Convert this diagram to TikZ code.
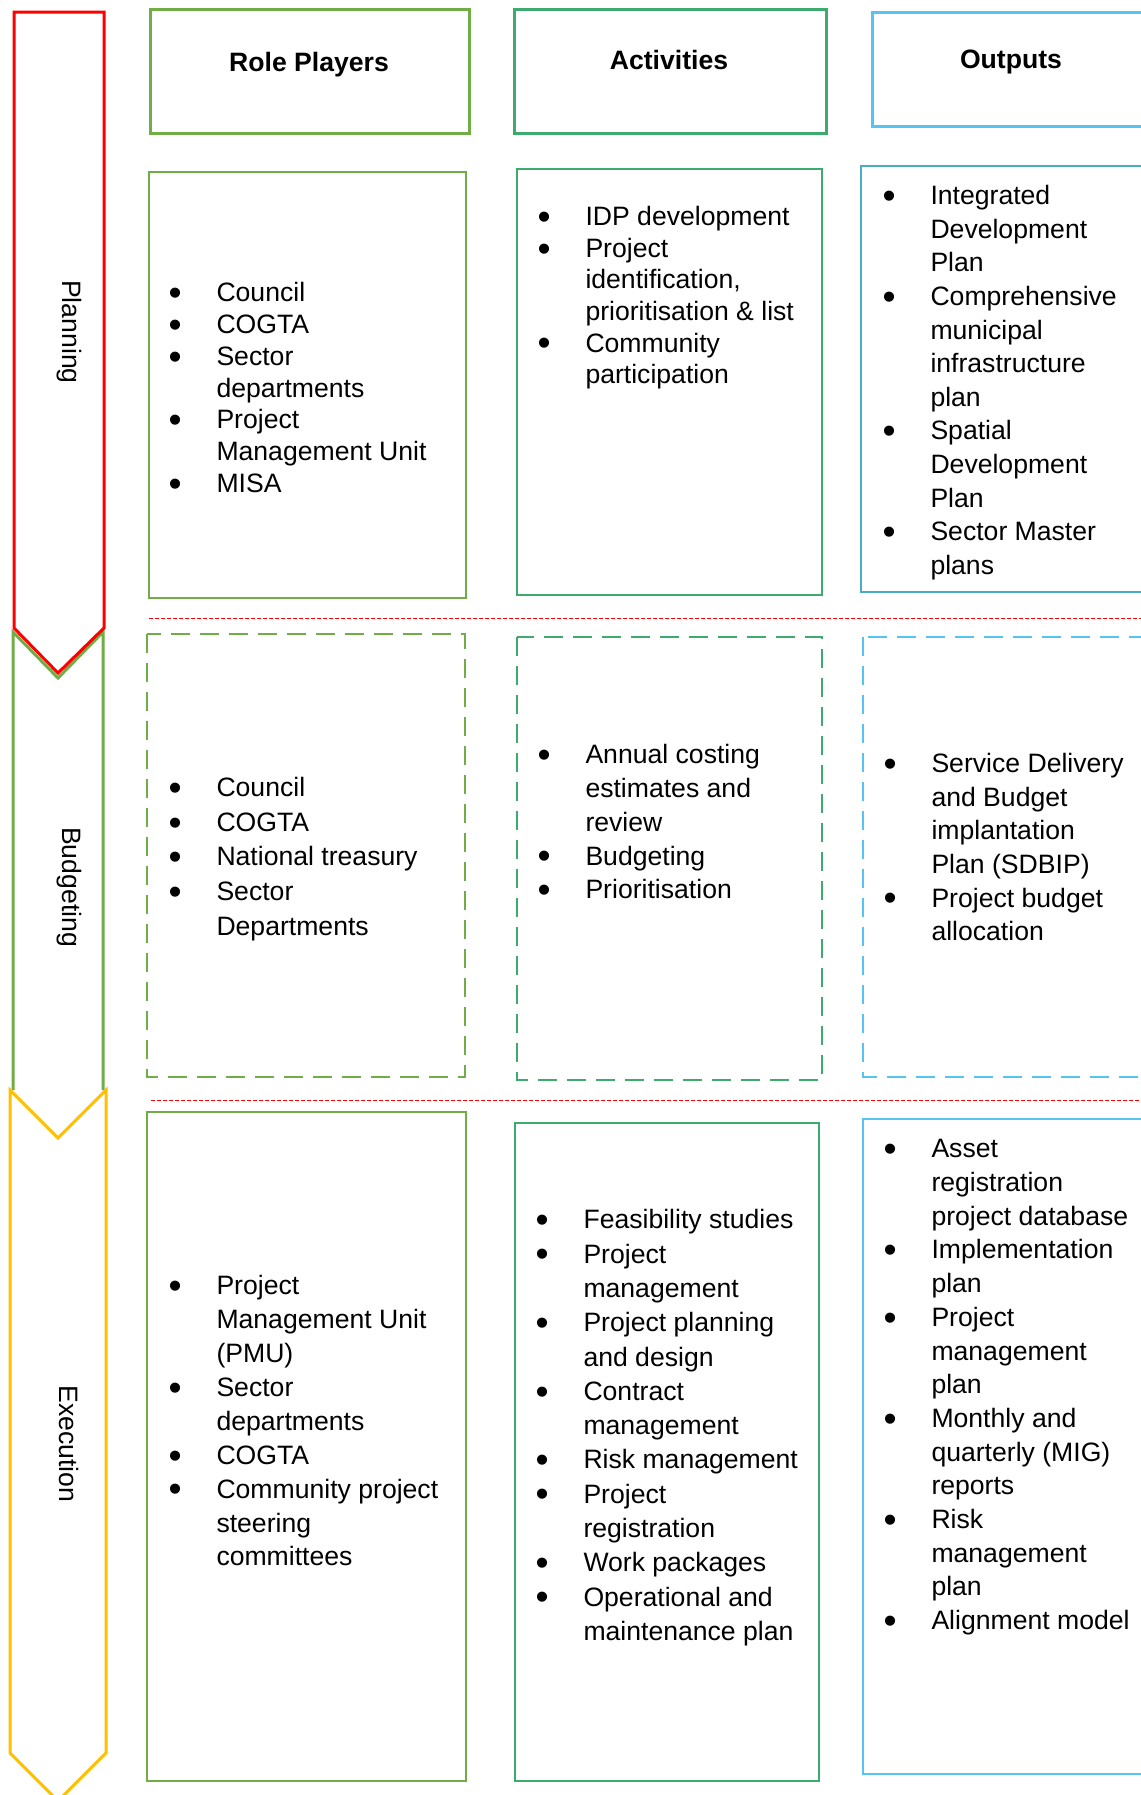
\documentclass[tikz,border=0pt]{standalone}
\usepackage{fontspec}
\setmainfont{Liberation Sans}
\usepackage{tikz}

\definecolor{roleGreen}{HTML}{70AD47}
\definecolor{actGreen}{HTML}{3DAA6E}
\definecolor{outBlue}{HTML}{56C3F3}
\definecolor{outTeal}{HTML}{4BACC6}
\definecolor{execYellow}{HTML}{FFC000}

\newcommand{\bul}{\makebox[18.4pt][l]{\hspace*{-0.8pt}\smash{\raisebox{-0.14em}{\scalebox{1.4}{\textbullet}}}}}
\newcommand{\cont}{\hspace*{18.4pt}}

\begin{document}
\begin{tikzpicture}[x=0.4pt,y=-0.4pt,every node/.style={inner sep=0pt,font=\fontsize{10.64}{13.4}\selectfont},
  hdr/.style={line width=1.2pt},
  box/.style={line width=0.8pt},
  dbox/.style={line width=0.9pt,dash pattern=on 7.6pt off 4pt},
  phase/.style={line width=1.2pt,line join=miter},
  sep/.style={red,line width=0.4pt,dash pattern=on 1.6pt off 0.8pt},
  lst/.style={anchor=north west,align=left,font=\fontsize{10.64}{#1}\selectfont},
  tag/.style={rotate=-90}]
  \useasboundingbox (0,0) rectangle (1141,1795);
  \clip (0,0) rectangle (1141,1795);

  \draw[phase,roleGreen] (13,1090) -- (13,632) -- (58,678) -- (103,632) -- (103,1090);
  \draw[phase,execYellow,fill=white] (10,1090) -- (58,1138) -- (106,1090) -- (106,1753) -- (58,1801) -- (10,1753) -- cycle;
  \draw[phase,red] (14,12) -- (104,12) -- (104,628) -- (58,673) -- (14,628) -- cycle;
  \node[tag] (tagPlan) at (69,332) {Planning};
  \node[tag] (tagBudget) at (69,887) {Budgeting};
  \node[tag] (tagExec) at (69,1444) {Execution};

  \draw[sep] (149,618) -- (1141,618);
  \draw[sep] (151,1100) -- (1141,1100);

  \draw[hdr,roleGreen] (150,9) rectangle (469,133);
  \draw[hdr,actGreen] (514,9) rectangle (826,133);
  \draw[hdr,outBlue] (872,12) rectangle (1160,126);
  \node[font=\bfseries\fontsize{10.64}{13}\selectfont] (hdrRole) at (309,65) {Role Players};
  \node[font=\bfseries\fontsize{10.64}{13}\selectfont] (hdrAct) at (669,60) {Activities};
  \node[font=\bfseries\fontsize{10.64}{13}\selectfont] (hdrOut) at (1011,62) {Outputs};

  \draw[box,roleGreen] (149,172) rectangle (466,598);
  \draw[box,actGreen] (517,169) rectangle (822,595);
  \draw[box,outTeal] (861,166) rectangle (1160,592);
  \draw[dbox,roleGreen] (147,634) rectangle (465,1077);
  \draw[dbox,actGreen] (517,637) rectangle (822,1080);
  \draw[dbox,outBlue] (863,637) rectangle (1160,1077);
  \draw[box,roleGreen] (147,1112) rectangle (466,1781);
  \draw[box,actGreen] (515,1123) rectangle (819,1781);
  \draw[box,outBlue] (863,1119) rectangle (1160,1774);

  \node[lst=12.72pt] (rolePlan) at (170,282) {\bul Council\\ \bul COGTA\\ \bul Sector\\ \cont departments\\ \bul Project\\ \cont Management Unit\\ \bul MISA};
  \node[lst=12.64pt] (actPlan) at (539,206) {\bul IDP development\\ \bul Project\\ \cont identification,\\ \cont prioritisation \& list\\ \bul Community\\ \cont participation};
  \node[lst=13.44pt] (outPlan) at (884,185) {\bul Integrated\\ \cont Development\\ \cont Plan\\ \bul Comprehensive\\ \cont municipal\\ \cont infrastructure\\ \cont plan\\ \bul Spatial\\ \cont Development\\ \cont Plan\\ \bul Sector Master\\ \cont plans};

  \node[lst=13.84pt] (roleBudget) at (170,777) {\bul Council\\ \bul COGTA\\ \bul National treasury\\ \bul Sector\\ \cont Departments};
  \node[lst=13.5pt] (actBudget) at (539,744) {\bul Annual costing\\ \cont estimates and\\ \cont review\\ \bul Budgeting\\ \bul Prioritisation};
  \node[lst=13.44pt] (outBudget) at (885,753) {\bul Service Delivery\\ \cont and Budget\\ \cont implantation\\ \cont Plan (SDBIP)\\ \bul Project budget\\ \cont allocation};

  \node[lst=13.56pt] (roleExec) at (170,1275) {\bul Project\\ \cont Management Unit\\ \cont (PMU)\\ \bul Sector\\ \cont departments\\ \bul COGTA\\ \bul Community project\\ \cont steering\\ \cont committees};
  \node[lst=13.72pt] (actExec) at (537,1209) {\bul Feasibility studies\\ \bul Project\\ \cont management\\ \bul Project planning\\ \cont and design\\ \bul Contract\\ \cont management\\ \bul Risk management\\ \bul Project\\ \cont registration\\ \bul Work packages\\ \bul Operational and\\ \cont maintenance plan};
  \node[lst=13.48pt] (outExec) at (885,1139) {\bul Asset\\ \cont registration\\ \cont project database\\ \bul Implementation\\ \cont plan\\ \bul Project\\ \cont management\\ \cont plan\\ \bul Monthly and\\ \cont quarterly (MIG)\\ \cont reports\\ \bul Risk\\ \cont management\\ \cont plan\\ \bul Alignment model};
\end{tikzpicture}
\end{document}
